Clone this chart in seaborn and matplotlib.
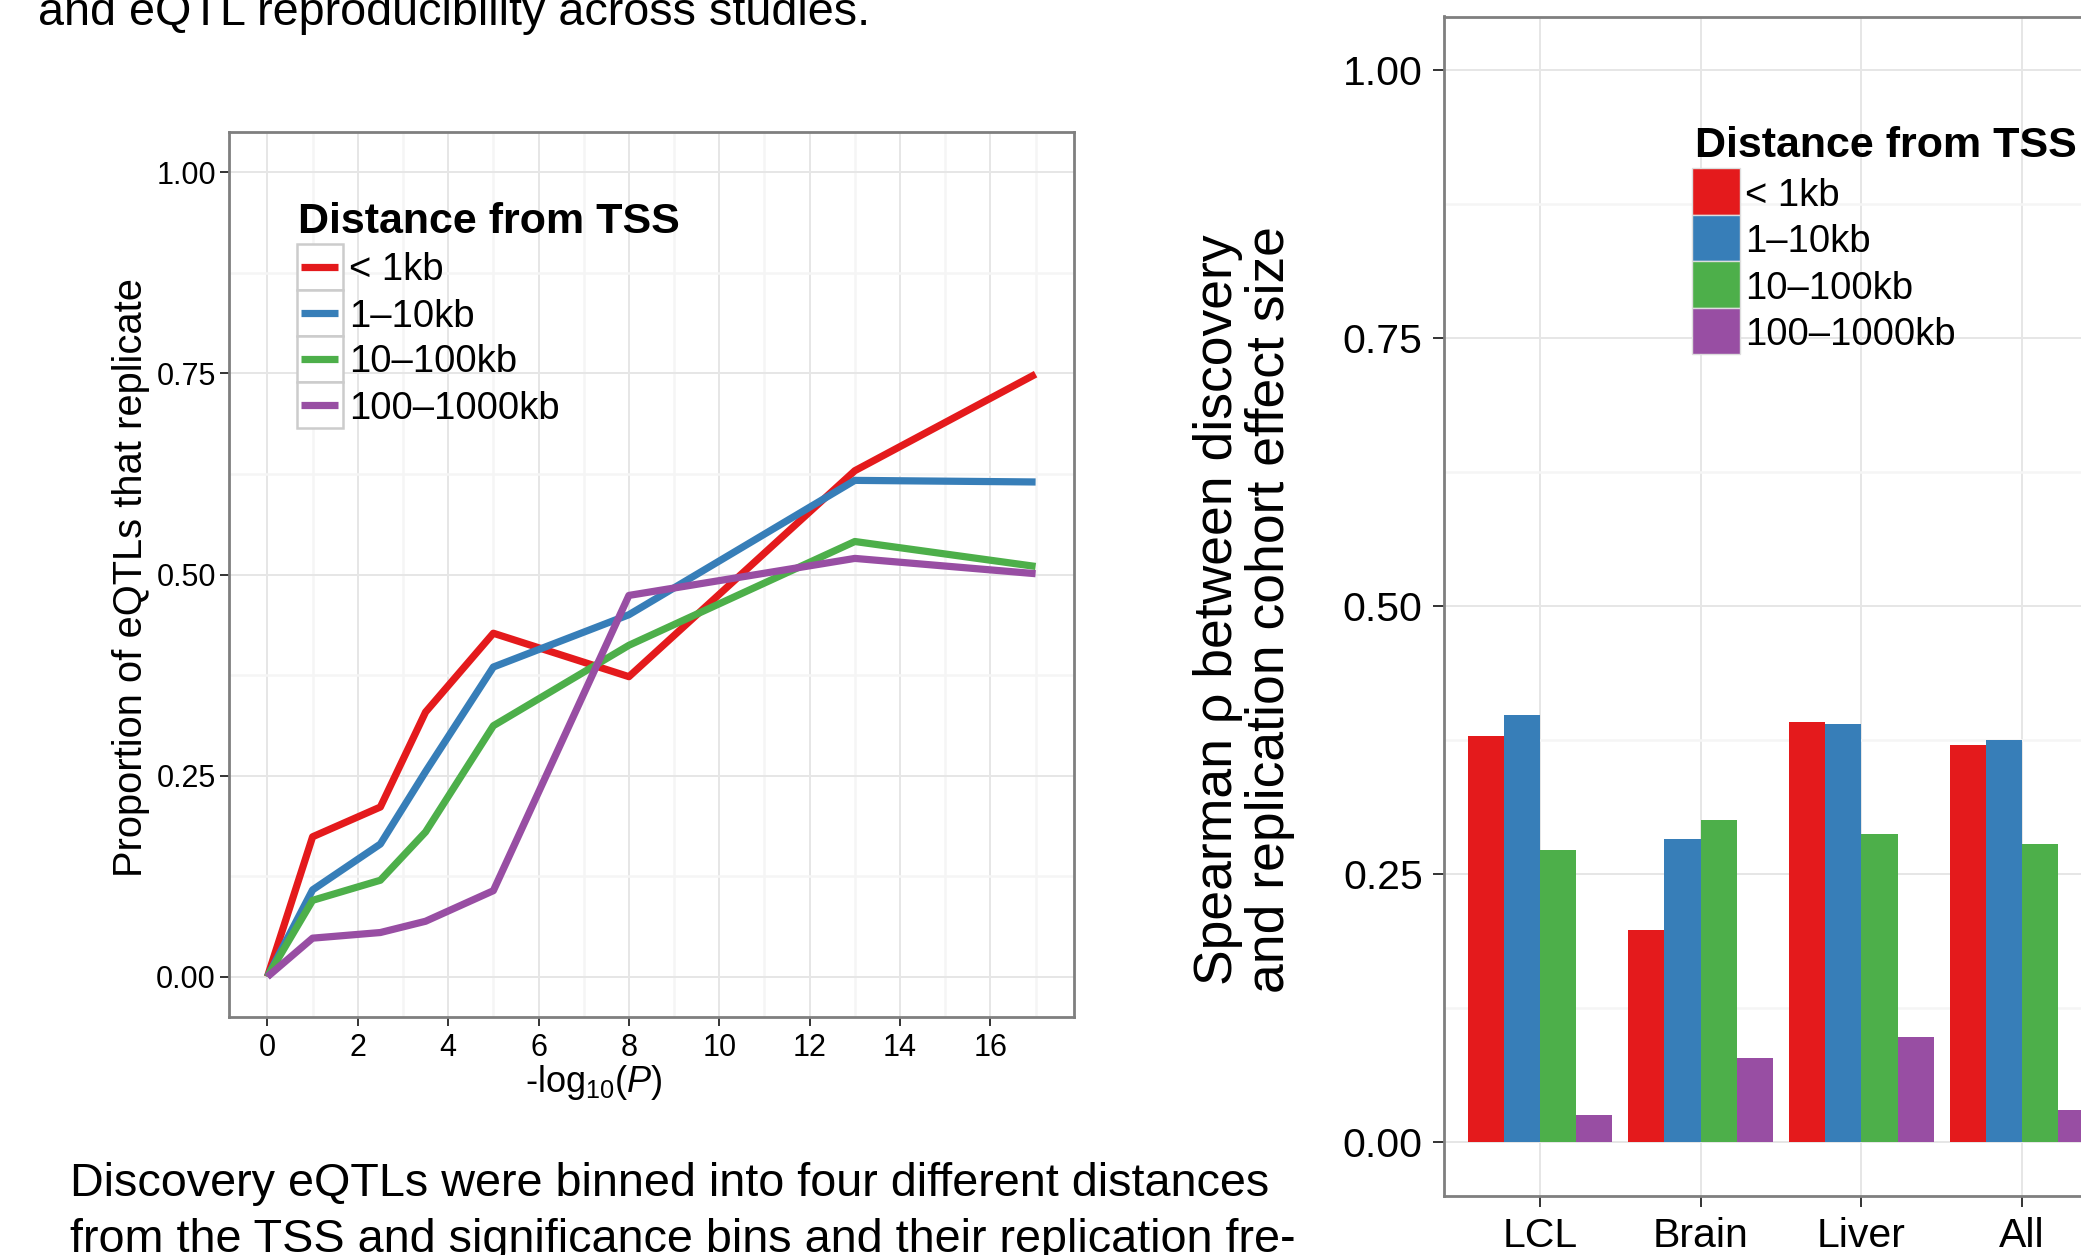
import matplotlib
matplotlib.use('Agg')
import pandas as pd
import matplotlib.pyplot as plt
from matplotlib import font_manager
from matplotlib.patches import Rectangle
from matplotlib.lines import Line2D
from matplotlib.ticker import MultipleLocator, FormatStrFormatter
import seaborn as sns

# figure size in pixels (dpi 100)
W, H = 2081, 1255

# ---- data ----
distances = ['< 1kb', '1\u201310kb', '10\u2013100kb', '100\u20131000kb']
colors = ['#E41A1C', '#377EB8', '#4DAF4A', '#984EA3']

# left panel: replication rate per significance bin
logp = [0, 1, 2.5, 3.5, 5, 8, 13, 17]
rep_lt1kb = [0.0, 0.174, 0.211, 0.329, 0.427, 0.373, 0.629, 0.749]
rep_1_10kb = [0.0, 0.108, 0.165, 0.255, 0.385, 0.450, 0.617, 0.615]
rep_10_100kb = [0.0, 0.095, 0.120, 0.180, 0.312, 0.412, 0.541, 0.510]
rep_100_1000kb = [0.0, 0.048, 0.055, 0.069, 0.107, 0.474, 0.520, 0.501]

# right panel: spearman rho per tissue
tissues = ['LCL', 'Brain', 'Liver', 'All']
rho_lt1kb = [0.379, 0.198, 0.392, 0.371]
rho_1_10kb = [0.399, 0.283, 0.390, 0.375]
rho_10_100kb = [0.273, 0.301, 0.288, 0.278]
rho_100_1000kb = [0.026, 0.079, 0.098, 0.030]

# surrounding page text
page_top = 'and eQTL reproducibility across studies.'
page_line1 = 'Discovery eQTLs were binned into four different distances'
page_line2 = 'from the TSS and significance bins and their replication fre-'

# ---- long tables for seaborn ----
rep_series = [rep_lt1kb, rep_1_10kb, rep_10_100kb, rep_100_1000kb]
lines_df = pd.concat(
    [pd.DataFrame({'logp': logp, 'prop': vals, 'dist': d})
     for d, vals in zip(distances, rep_series)], ignore_index=True)

rho_series = [rho_lt1kb, rho_1_10kb, rho_10_100kb, rho_100_1000kb]
bars_df = pd.concat(
    [pd.DataFrame({'tissue': tissues, 'rho': vals, 'dist': d})
     for d, vals in zip(distances, rho_series)], ignore_index=True)

# ---- style ----
sns.set_theme(style='white')
plt.rcParams['font.family'] = ['Liberation Sans', 'DejaVu Sans']
plt.rcParams['text.color'] = 'black'
plt.rcParams['axes.labelcolor'] = 'black'
plt.rcParams['mathtext.fontset'] = 'custom'
plt.rcParams['mathtext.rm'] = 'Liberation Sans'
plt.rcParams['mathtext.it'] = 'Liberation Sans:italic'

names = {f.name for f in font_manager.fontManager.ttflist}
page_font = 'Liberation Sans Narrow' if 'Liberation Sans Narrow' in names else 'Liberation Sans'


def fx(x):
    return x / W


def fy(y):
    return 1 - y / H


fig = plt.figure(figsize=(W / 100, H / 100), dpi=100)
fig.patch.set_facecolor('white')

ax1 = fig.add_axes([fx(229), fy(1017), (1074 - 229) / W, (1017 - 132) / H])
ax2 = fig.add_axes([fx(1443.5), fy(1196), 675 / W, (1196 - 16.5) / H])

line_w = 5.2

# left: lines
sns.lineplot(data=lines_df, x='logp', y='prop', hue='dist',
             hue_order=distances, palette=colors, linewidth=line_w,
             errorbar=None, legend=False, ax=ax1,
             solid_capstyle='butt', solid_joinstyle='round')

# right: dodged bars
sns.barplot(data=bars_df, x='tissue', y='rho', hue='dist',
            hue_order=distances, palette=colors, saturation=1,
            width=0.9, gap=0, linewidth=0, errorbar=None,
            legend=False, ax=ax2)


def style_axes(ax, tick_size, tick_len, ypad, xpad):
    for s in ax.spines.values():
        s.set_color('#7f7f7f')
        s.set_linewidth(2.0)
    ax.set_ylim(-0.05, 1.05)
    ax.yaxis.set_major_locator(MultipleLocator(0.25))
    ax.yaxis.set_minor_locator(MultipleLocator(0.125))
    ax.yaxis.set_major_formatter(FormatStrFormatter('%.2f'))
    ax.set_axisbelow(True)
    ax.grid(which='major', color='#e6e6e6', linewidth=1.4)
    ax.grid(which='minor', axis='y', color='#f5f5f5', linewidth=1.8)
    ax.tick_params(which='major', length=tick_len, width=1.4,
                   color='#333333', labelsize=tick_size,
                   labelcolor='black', left=True, bottom=True)
    ax.tick_params(axis='y', which='major', pad=ypad)
    ax.tick_params(axis='x', which='major', pad=xpad)
    ax.tick_params(which='minor', length=0)


style_axes(ax1, 22, 6.5, 3, 5)
ax1.set_xlim(-0.85, 17.85)
ax1.xaxis.set_major_locator(MultipleLocator(2))
ax1.xaxis.set_minor_locator(MultipleLocator(1))
ax1.grid(which='minor', axis='x', color='#f5f5f5', linewidth=1.8)

style_axes(ax2, 29.5, 8, 7, 7)
ax2.set_xlim(-0.6, 3.6)

# axis titles
ax1.set_xlabel(r'-log$_{10}$($\mathit{P}$)', fontsize=26, va='baseline')
ax1.xaxis.set_label_coords(fx(594), fy(1092), transform=fig.transFigure)
ax1.set_ylabel('Proportion of eQTLs that replicate', fontsize=28.7, va='center')
ax1.yaxis.set_label_coords(fx(131), fy(577), transform=fig.transFigure)

ax2.set_xlabel('')
ax2.set_ylabel('Spearman \u03c1 between discovery\nand replication cohort effect size',
               fontsize=38.5, va='center', linespacing=1.05)
ax2.yaxis.set_label_coords(fx(1244), fy(610), transform=fig.transFigure)

# ---- legends (drawn by hand, ggplot style) ----
fig.text(fx(298), fy(232.7), 'Distance from TSS', fontsize=31,
         fontweight='bold', va='baseline')
for i, (lab, col) in enumerate(zip(distances, colors)):
    top = 244 + 46 * i
    fig.add_artist(Rectangle((fx(296.5), fy(top + 46)), 46 / W, 46 / H,
                             transform=fig.transFigure, facecolor='white',
                             edgecolor='#cccccc', linewidth=1.8))
    fig.add_artist(Line2D([fx(301), fx(338)], [fy(top + 23)] * 2,
                          transform=fig.transFigure, color=col,
                          linewidth=line_w, solid_capstyle='butt'))
    fig.text(fx(349), fy(top + 23 + 13.5), lab, fontsize=27.5, va='baseline')

fig.text(fx(1695), fy(157), 'Distance from TSS', fontsize=31,
         fontweight='bold', va='baseline')
for i, (lab, col) in enumerate(zip(distances, colors)):
    top = 168.4 + 46.5 * i
    fig.add_artist(Rectangle((fx(1691.5), fy(top + 46.5)), 48 / W, 46.5 / H,
                             transform=fig.transFigure, facecolor=col,
                             edgecolor='#dddddd', linewidth=1.0))
    fig.text(fx(1745), fy(top + 23.25 + 14), lab, fontsize=27.5, va='baseline')

# ---- page text around the figure ----
t_top = fig.text(fx(38), fy(25), page_top, family=page_font, fontsize=38, va='baseline')
t_l1 = fig.text(fx(70), fy(1196), page_line1, family=page_font, fontsize=38, va='baseline')
t_l2 = fig.text(fx(70), fy(1252), page_line2, family=page_font, fontsize=38, va='baseline')

# size the page text so that the first body line spans its measured width
renderer = fig.canvas.get_renderer()
w1 = t_l1.get_window_extent(renderer).width
size = 38 * 1200 / w1
for t in (t_top, t_l1, t_l2):
    t.set_fontsize(size)

fig.savefig('out.png', dpi=100, facecolor='white')
